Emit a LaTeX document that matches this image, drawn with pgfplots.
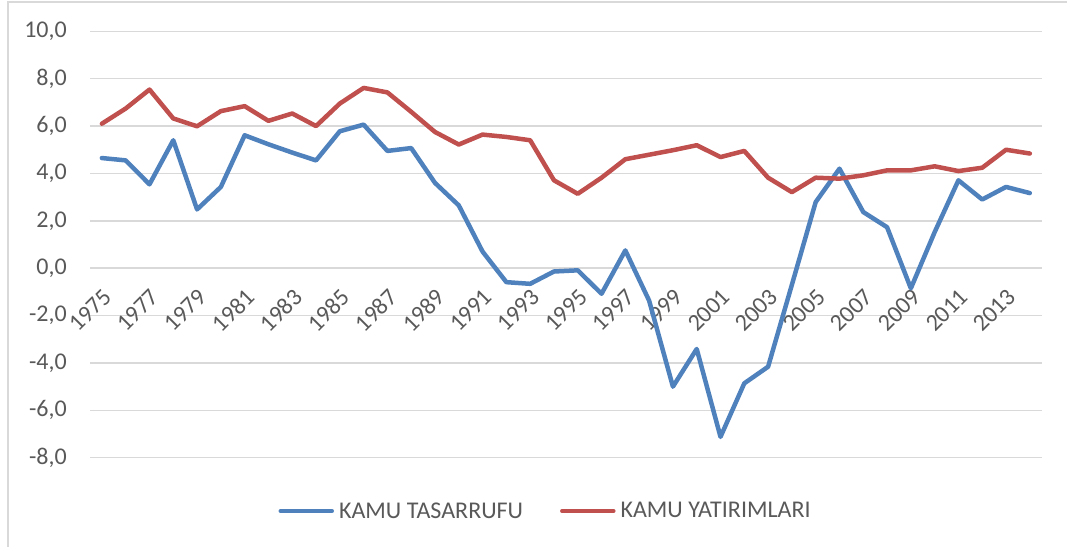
\documentclass[border=0pt]{standalone}
\usepackage{fontspec}
\setmainfont{Carlito}
\usepackage{pgfplots}
\usepackage{pgfplotstable}
\pgfplotsset{compat=1.18}

\definecolor{tasblue}{HTML}{4F81BD}
\definecolor{yatred}{HTML}{C0504D}
\definecolor{gridgray}{HTML}{D9D9D9}
\definecolor{labelgray}{HTML}{595959}

% kamu tasarrufu / kamu yatirimlari, % of GDP
\pgfplotstableread{
year tas yat
1975 4.65 6.10
1976 4.55 6.74
1977 3.54 7.54
1978 5.40 6.32
1979 2.48 5.99
1980 3.43 6.63
1981 5.61 6.84
1982 5.23 6.22
1983 4.88 6.53
1984 4.55 6.00
1985 5.78 6.95
1986 6.06 7.61
1987 4.95 7.42
1988 5.07 6.60
1989 3.60 5.75
1990 2.65 5.22
1991 0.70 5.64
1992 -0.59 5.54
1993 -0.66 5.40
1994 -0.14 3.71
1995 -0.09 3.14
1996 -1.08 3.82
1997 0.75 4.60
1998 -1.37 4.79
1999 -5.00 4.98
2000 -3.41 5.19
2001 -7.12 4.69
2002 -4.86 4.95
2003 -4.16 3.82
2004 -0.70 3.21
2005 2.79 3.82
2006 4.20 3.78
2007 2.37 3.92
2008 1.73 4.13
2009 -0.85 4.13
2010 1.52 4.30
2011 3.71 4.10
2012 2.90 4.24
2013 3.43 5.00
2014 3.17 4.84
}\kamu

\begin{document}
\begin{tikzpicture}[x=1pt,y=1pt]
\useasboundingbox (0,0) rectangle (1067,546);
\draw[gridgray, line width=1.2pt] (8,-10) -- (8,544) -- (1075,544);
\begin{axis}[
  at={(90pt,88.3pt)}, anchor=south west,
  width=951.7pt, height=426.4pt, scale only axis,
  xmin=1974.5, xmax=2014.5, ymin=-8, ymax=10,
  axis x line=middle, axis y line=left,
  axis line style={draw=none},
  hide obscured x ticks=false, hide obscured y ticks=false,
  major tick length=0pt,
  xtick={1975,1977,...,2013},
  xticklabels={1975,1977,1979,1981,1983,1985,1987,1989,1991,1993,1995,1997,1999,2001,2003,2005,2007,2009,2011,2013},
  xticklabel shift=19pt,
  xticklabel style={rotate=45, anchor=north east, inner sep=0pt},
  ytick={-8,-6,...,10},
  yticklabel shift=23pt,
  yticklabel style={anchor=east, inner sep=0pt,
    /pgf/number format/.cd, fixed, fixed zerofill, precision=1, use comma, assume math mode=true},
  tick label style={font=\fontsize{24}{28}\selectfont, text=labelgray},
  ymajorgrids,
  major grid style={gridgray, line width=1.5pt},
  legend columns=2,
  legend cell align=left,
  legend style={draw=none, fill=none, at={(0.1981,-0.1250)}, anchor=west,
    inner sep=0pt, outer sep=0pt, column sep=5pt,
    /tikz/every even column/.append style={column sep=37pt},
    nodes={inner sep=0pt},
    font=\fontsize{24}{28}\selectfont, text=labelgray},
  legend image code/.code={\draw[#1, line width=4pt, line cap=round] (2pt,0pt) -- (53.5pt,0pt);},
]
\addplot[tasblue, line width=4.5pt, line join=round, line cap=round] table[x=year, y=tas] {\kamu};
\addlegendentry{KAMU TASARRUFU}
\addplot[yatred, line width=4.5pt, line join=round, line cap=round] table[x=year, y=yat] {\kamu};
\addlegendentry{KAMU YATIRIMLARI}
\end{axis}
\end{tikzpicture}
\end{document}
